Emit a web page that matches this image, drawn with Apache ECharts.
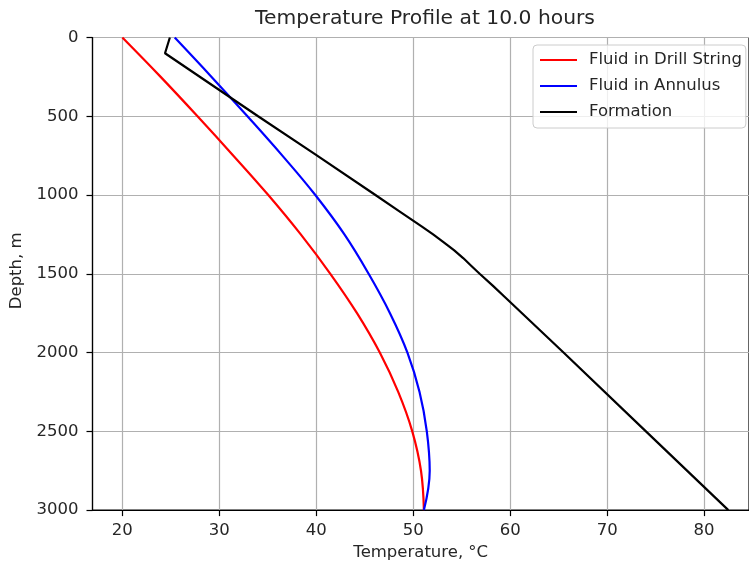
<!DOCTYPE html>
<html>
<head>
<meta charset="utf-8">
<script src="https://cdn.jsdelivr.net/npm/echarts@6/dist/echarts.min.js"></script>
<style>
  html, body { margin: 0; padding: 0; background: #fff; }
  #chart { width: 749px; height: 566px; }
</style>
</head>
<body>
<div id="chart"></div>
<script>
// Depth stations (m) for the two fluid profiles
const depth = [0, 250, 500, 750, 1000, 1250, 1500, 1750, 2000, 2250, 2500, 2750, 3000];
// Fluid temperature inside the drill string (°C)
const drillString = [20.0, 23.95, 27.75, 31.45, 35.05, 38.4, 41.45, 44.2, 46.55, 48.45, 49.9, 50.8, 51.1];
// Fluid temperature in the annulus (°C)
const annulus = [25.4, 29.2, 32.9, 36.5, 39.9, 42.9, 45.4, 47.6, 49.4, 50.65, 51.4, 51.7, 51.1];

// Formation temperature profile
const formationDepth = [0, 100, 500, 742, 1000, 1100, 1200, 1250, 1300, 1350, 1400, 1450, 1500, 1575, 1650, 2000, 2500, 3000];
const formationTemp = [24.9, 24.4, 34.0, 39.9, 46.1, 48.5, 50.9, 52.05, 53.15, 54.2, 55.15, 56.0, 56.85, 58.2, 59.5, 65.5, 74.0, 82.5];

// Axis ticks
const tempTicks = [20, 30, 40, 50, 60, 70, 80];
const depthTicks = [0, 500, 1000, 1500, 2000, 2500, 3000];

const seriesNames = ['Fluid in Drill String', 'Fluid in Annulus', 'Formation'];
const seriesColors = ['#ff0000', '#0000ff', '#000000'];

const pairs = (xs, ys) => xs.map((x, i) => [x, ys[i]]);

const font = 'DejaVu Sans';
const textColor = '#262626';
const labelSize = 16.5;

const chart = echarts.init(document.getElementById('chart'), null, { renderer: 'canvas' });

chart.setOption({
  animation: false,
  backgroundColor: '#ffffff',
  title: {
    text: 'Temperature Profile at 10.0 hours',
    left: 425,
    top: 9,
    padding: 0,
    textAlign: 'center',
    textStyle: { fontFamily: font, fontSize: 20.3, fontWeight: 'normal', color: textColor }
  },
  grid: {
    left: 92.5, right: -3, top: 37.5, bottom: 53.5,
    show: true, borderColor: '#000', borderWidth: 1.2, backgroundColor: 'transparent'
  },
  legend: {
    data: seriesNames,
    orient: 'vertical',
    left: 533, top: 45,
    padding: [6, 4, 7, 6],
    itemWidth: 37, itemHeight: 14, itemGap: 8,
    itemStyle: { opacity: 0 },
    backgroundColor: 'rgba(255,255,255,0.8)',
    borderColor: '#cccccc', borderWidth: 1, borderRadius: 4,
    textStyle: { fontFamily: font, fontSize: labelSize, color: textColor, lineHeight: 18, padding: [0, 0, 0, 7] }
  },
  xAxis: {
    type: 'value',
    min: 16.92, max: 84.63,
    position: 'bottom',
    axisLine: { show: true, onZero: false, lineStyle: { color: '#000', width: 1.2 } },
    axisTick: { show: true, inside: false, length: 6, customValues: tempTicks, lineStyle: { color: '#000', width: 1.2 } },
    axisLabel: { customValues: tempTicks, margin: 12, fontFamily: font, fontSize: labelSize, color: textColor },
    splitLine: { show: true, lineStyle: { color: '#b0b0b0', width: 1.2 } },
    name: 'Temperature, °C',
    nameLocation: 'middle',
    nameGap: 31,
    nameTextStyle: { fontFamily: font, fontSize: labelSize, color: textColor }
  },
  yAxis: {
    type: 'value',
    inverse: true,
    min: depthTicks[0], max: depthTicks[depthTicks.length - 1], interval: 500,
    axisLine: { show: true, onZero: false, lineStyle: { color: '#000', width: 1.2 } },
    axisTick: { show: true, inside: false, length: 6, lineStyle: { color: '#000', width: 1.2 } },
    axisLabel: { margin: 14, fontFamily: font, fontSize: labelSize, color: textColor, formatter: v => String(v) },
    splitLine: { show: true, lineStyle: { color: '#b0b0b0', width: 1.2 } },
    name: 'Depth, m',
    nameLocation: 'middle',
    nameGap: 61,
    nameRotate: 90,
    nameTextStyle: { fontFamily: font, fontSize: labelSize, color: textColor, padding: [0, 0, 0, 6] }
  },
  series: [
    {
      name: seriesNames[0], type: 'line', symbol: 'none', smooth: 0.4,
      data: pairs(drillString, depth),
      lineStyle: { color: seriesColors[0], width: 2.2 }, itemStyle: { color: seriesColors[0] }, z: 3
    },
    {
      name: seriesNames[1], type: 'line', symbol: 'none', smooth: 0.4,
      data: pairs(annulus, depth),
      lineStyle: { color: seriesColors[1], width: 2.2 }, itemStyle: { color: seriesColors[1] }, z: 4
    },
    {
      name: seriesNames[2], type: 'line', symbol: 'none', smooth: false,
      data: pairs(formationTemp, formationDepth),
      lineStyle: { color: seriesColors[2], width: 2.2 }, itemStyle: { color: seriesColors[2] }, z: 5
    }
  ]
});
</script>
</body>
</html>
